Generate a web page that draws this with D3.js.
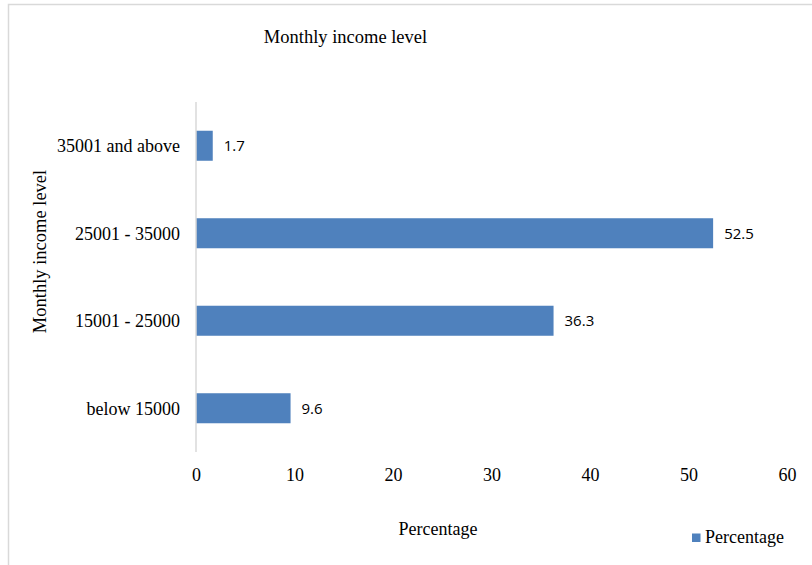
<!DOCTYPE html>
<html>
<head>
<meta charset="utf-8">
<script src="https://cdn.jsdelivr.net/npm/d3@7/dist/d3.min.js"></script>
<style>
  html, body { margin: 0; padding: 0; background: #ffffff; }
  svg { display: block; }
</style>
</head>
<body>
<script>
// Monthly income level distribution (percentage of respondents)
const categories = ["35001 and above", "25001 - 35000", "15001 - 25000", "below 15000"];
const percentages = [1.7, 52.5, 36.3, 9.6];
const xTicks = [0, 10, 20, 30, 40, 50, 60];
const chartTitle = "Monthly income level";
const xTitle = "Percentage";
const yTitle = "Monthly income level";
const seriesName = "Percentage";

const W = 812, H = 565;
const serif = "'Liberation Serif', 'Times New Roman', serif";
const sans = "'Open Sans', 'Noto Sans', sans-serif";
const barColor = "#4F81BD";
const lineColor = "#D9D9D9";

const svg = d3.select("body").append("svg")
  .attr("width", W).attr("height", H);

// chart frame
svg.append("rect")
  .attr("x", 8.5).attr("y", 4.5)
  .attr("width", W + 20).attr("height", H + 20)
  .attr("fill", "#ffffff")
  .attr("stroke", lineColor).attr("stroke-width", 1.5);

const x = d3.scaleLinear().domain([0, 60]).range([196, 787]);
const y = d3.scaleBand().domain(categories).range([102, 452]).paddingInner(0.657).paddingOuter(0.3285);

// title
svg.append("text")
  .attr("x", 345.5).attr("y", 43)
  .attr("text-anchor", "middle")
  .attr("font-family", serif).attr("font-size", 18.5)
  .attr("fill", "#000")
  .text(chartTitle);

// bars
svg.append("g").selectAll("rect")
  .data(categories)
  .join("rect")
  .attr("x", x(0))
  .attr("y", d => y(d))
  .attr("width", (d, i) => x(percentages[i]) - x(0))
  .attr("height", y.bandwidth())
  .attr("fill", barColor);

// vertical category axis
const yAxis = svg.append("g")
  .attr("transform", `translate(${x(0)},0)`)
  .call(d3.axisLeft(y).tickSize(0).tickPadding(16));
yAxis.select(".domain").attr("stroke", lineColor).attr("stroke-width", 1.5)
  .attr("d", `M0,102V452`);
yAxis.selectAll("text")
  .attr("font-family", serif).attr("font-size", 18)
  .attr("fill", "#000").attr("dy", "0.36em");

// horizontal value axis (labels only)
const xAxis = svg.append("g")
  .attr("transform", `translate(0,481)`)
  .call(d3.axisBottom(x).tickValues(xTicks).tickFormat(d3.format("d")).tickSize(0).tickPadding(0));
xAxis.select(".domain").remove();
xAxis.selectAll("text")
  .attr("font-family", serif).attr("font-size", 18)
  .attr("fill", "#000").attr("dy", 0);

// value labels
svg.append("g").selectAll("text")
  .data(categories)
  .join("text")
  .attr("x", (d, i) => x(percentages[i]) + 11)
  .attr("y", d => y(d) + y.bandwidth() / 2)
  .attr("dy", "0.36em")
  .attr("font-family", sans).attr("font-size", 15)
  .attr("fill", "#000")
  .text((d, i) => percentages[i]);

// axis titles
svg.append("text")
  .attr("x", 438).attr("y", 535)
  .attr("text-anchor", "middle")
  .attr("font-family", serif).attr("font-size", 18)
  .attr("fill", "#000")
  .text(xTitle);

svg.append("text")
  .attr("transform", "translate(46,251.5) rotate(-90)")
  .attr("text-anchor", "middle")
  .attr("font-family", serif).attr("font-size", 18.5)
  .attr("fill", "#000")
  .text(yTitle);

// legend
svg.append("rect")
  .attr("x", 692).attr("y", 533.5)
  .attr("width", 8.5).attr("height", 8.5)
  .attr("fill", barColor);
svg.append("text")
  .attr("x", 705).attr("y", 543)
  .attr("font-family", serif).attr("font-size", 18)
  .attr("fill", "#000")
  .text(seriesName);
</script>
</body>
</html>
